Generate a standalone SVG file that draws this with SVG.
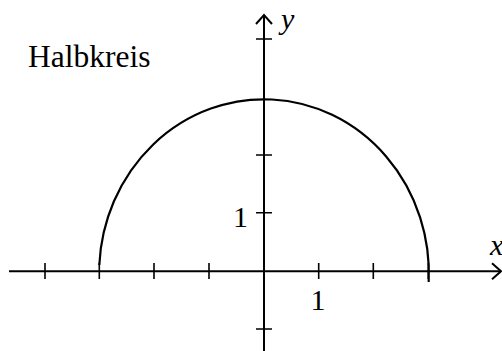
<svg xmlns="http://www.w3.org/2000/svg" width="502" height="351" viewBox="0 0 502 351">
<style>
.ax{stroke:#000;stroke-width:2;fill:none}
.tk{stroke:#000;stroke-width:1.6;fill:none}
.cv{stroke:#000;stroke-width:2.2;fill:none}
text{font-family:"Liberation Serif","Times New Roman",serif;font-size:30px;fill:#000}
.it{font-style:italic}
.ti{font-size:31.5px}
</style>
<g id="axes">
<line class="ax" x1="9" y1="271.3" x2="501" y2="271.3"/>
<polyline class="ax" points="492,263.3 501,271.3 492,279.3"/>
<line class="ax" x1="264" y1="351" x2="264" y2="15"/>
<polyline class="ax" points="256,24 264,15 272,24"/>
</g>
<g id="ticks">
<path class="tk" d="M45,263V279M99.3,263V279M154,263V279M209,263V279M318.7,263V279M373.3,263V279M428.3,263V279"/>
<path class="tk" d="M256,39H272M256,155H272M256,212.7H272M256,329H272"/>
</g>
<g id="curve">
<path class="cv" d="M99.3,265 A164.7 174 0 0 1 428.7,282"/>
</g>
<g id="labels">
<text class="ti" x="28" y="67">Halbkreis</text>
<text x="318" y="310" text-anchor="middle">1</text>
<text x="248" y="227" text-anchor="end">1</text>
<text class="it" x="490" y="255">x</text>
<text class="it" x="281" y="29">y</text>
</g>
</svg>
